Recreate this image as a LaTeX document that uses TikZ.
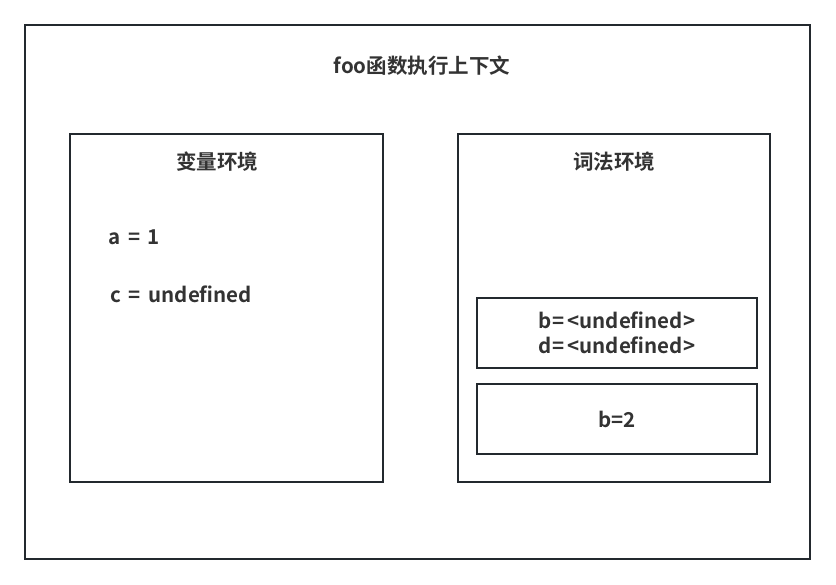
\documentclass[tikz,border=0pt]{standalone}
\usepackage{fontspec}
\setmainfont{Noto Sans CJK SC}[BoldFont={Noto Sans CJK SC Bold}]
\definecolor{linec}{HTML}{23292E}
\definecolor{textc}{HTML}{333333}
\newcommand{\eqgap}{\hspace{0.38em}}
\begin{document}
\begin{tikzpicture}[x=1pt,y=-1pt,
  box/.style={draw=linec,line width=2pt,fill=white},
  lbl/.style={text=textc,font=\fontsize{20.5}{25}\selectfont\bfseries,inner sep=0pt},
  lblleft/.style={lbl,anchor=west}]
\useasboundingbox (0,0) rectangle (836,585);
\fill[white] (0,0) rectangle (836,585);
\draw[box] (25,25) rectangle (810,559);
\node[lbl] (title) at (422,66) {foo函数执行上下文};
\draw[box] (70,134) rectangle (383,482);
\node[lbl] (vtitle) at (217,162) {变量环境};
\node[lblleft] (a) at (108,237) {a\eqgap=\eqgap1};
\node[lblleft] (c) at (110,294) {c\eqgap=\eqgap undefined};
\draw[box] (458,134) rectangle (770,482);
\node[lbl] (ltitle) at (614,162) {词法环境};
\draw[box] (477,298) rectangle (757,368);
\node[lbl,align=center] (bd) at (617,333) {b=\,<undefined>\\d=\,<undefined>};
\draw[box] (477,384) rectangle (757,454);
\node[lbl] (b2) at (617,419) {b=2};
\end{tikzpicture}
\end{document}
